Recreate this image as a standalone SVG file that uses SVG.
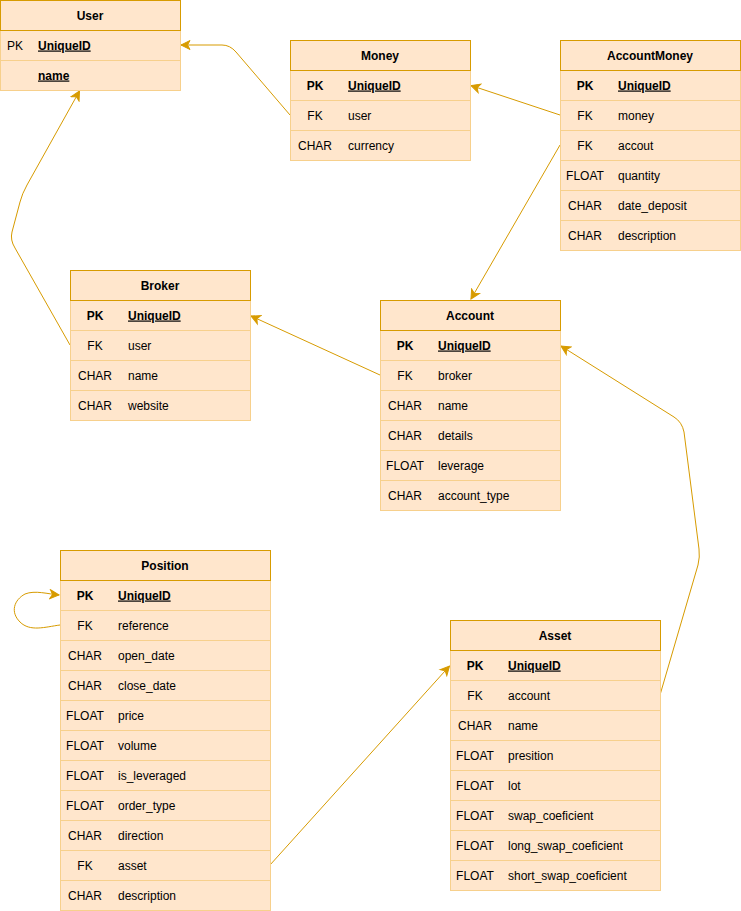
<svg xmlns="http://www.w3.org/2000/svg" width="741" height="911" viewBox="0 0 741 911">
<defs>
<style>
.hd{fill:#ffe6cc;stroke:#d79b00;stroke-width:1}
.bd{fill:#ffe6cc;stroke:#f7d08c;stroke-width:1}
.sep{stroke:#f7d08c;stroke-width:1}
text{font-family:"Liberation Sans",Arial,Helvetica,sans-serif;font-size:12px;fill:#000}
.t{font-weight:bold;text-anchor:middle}
.k{text-anchor:middle}
.kb{text-anchor:middle;font-weight:bold}
.pk{font-weight:bold;text-decoration:underline}
.c{fill:none;stroke:#d79b00;stroke-width:1}
</style>
<marker id="ar" markerUnits="userSpaceOnUse" markerWidth="12" markerHeight="12" viewBox="0 0 12 12" refX="10" refY="6" orient="auto">
<path d="M1,1.5 L10,6 L1,10.5 L3.5,6 Z" fill="#d79b00" stroke="#d79b00" stroke-width="1"/>
</marker>
</defs>
<rect width="741" height="911" fill="#fff"/>

<g id="connectors">
<path class="c" d="M290,115 L236,52 Q230,45 222,45 L181,45" marker-end="url(#ar)"/>
<path class="c" d="M560,115 L471,85.5" marker-end="url(#ar)"/>
<path class="c" d="M560,145 L471,299" marker-end="url(#ar)"/>
<path class="c" d="M70,345 L15,248 Q10,240 12,232 L20,202 Q22,194 27,185 L79.5,91" marker-end="url(#ar)"/>
<path class="c" d="M380,375 L251,316" marker-end="url(#ar)"/>
<path class="c" d="M660,695 L698,565 Q700,557 699,549 L684,432 Q682,422 674,417 L561,346" marker-end="url(#ar)"/>
<path class="c" d="M270,865 L449.5,666" marker-end="url(#ar)"/>
<path class="c" d="M60,625 C45,627 30,632 20,622 C10,612 14,600 25,594 C35,590 48,594 59,595" marker-end="url(#ar)"/>
</g>

<g id="user">
<rect class="bd" x="0.5" y="30.5" width="180" height="60"/>
<rect class="hd" x="0.5" y="0.5" width="180" height="30"/>
<line class="sep" x1="0.5" y1="60.5" x2="180.5" y2="60.5"/>
<text class="t" x="90" y="19.5">User</text>
<text class="k" x="15" y="49.5">PK</text><text class="pk" x="38" y="49.5">UniqueID</text>
<text class="pk" x="38" y="79.5">name</text>
</g>

<g id="money">
<rect class="bd" x="290.5" y="70.5" width="180" height="90"/>
<rect class="hd" x="290.5" y="40.5" width="180" height="30"/>
<line class="sep" x1="290.5" y1="100.5" x2="470.5" y2="100.5"/>
<line class="sep" x1="290.5" y1="130.5" x2="470.5" y2="130.5"/>
<text class="t" x="380" y="59.5">Money</text>
<text class="kb" x="315" y="89.5">PK</text><text class="pk" x="348" y="89.5">UniqueID</text>
<text class="k" x="315" y="119.5">FK</text><text x="348" y="119.5">user</text>
<text class="k" x="315" y="149.5">CHAR</text><text x="348" y="149.5">currency</text>
</g>

<g id="accountmoney">
<rect class="bd" x="560.5" y="70.5" width="180" height="180"/>
<rect class="hd" x="560.5" y="40.5" width="180" height="30"/>
<line class="sep" x1="560.5" y1="100.5" x2="740.5" y2="100.5"/>
<line class="sep" x1="560.5" y1="130.5" x2="740.5" y2="130.5"/>
<line class="sep" x1="560.5" y1="160.5" x2="740.5" y2="160.5"/>
<line class="sep" x1="560.5" y1="190.5" x2="740.5" y2="190.5"/>
<line class="sep" x1="560.5" y1="220.5" x2="740.5" y2="220.5"/>
<text class="t" x="650" y="59.5">AccountMoney</text>
<text class="kb" x="585" y="89.5">PK</text><text class="pk" x="618" y="89.5">UniqueID</text>
<text class="k" x="585" y="119.5">FK</text><text x="618" y="119.5">money</text>
<text class="k" x="585" y="149.5">FK</text><text x="618" y="149.5">accout</text>
<text class="k" x="585" y="179.5">FLOAT</text><text x="618" y="179.5">quantity</text>
<text class="k" x="585" y="209.5">CHAR</text><text x="618" y="209.5">date_deposit</text>
<text class="k" x="585" y="239.5">CHAR</text><text x="618" y="239.5">description</text>
</g>

<g id="broker">
<rect class="bd" x="70.5" y="300.5" width="180" height="120"/>
<rect class="hd" x="70.5" y="270.5" width="180" height="30"/>
<line class="sep" x1="70.5" y1="330.5" x2="250.5" y2="330.5"/>
<line class="sep" x1="70.5" y1="360.5" x2="250.5" y2="360.5"/>
<line class="sep" x1="70.5" y1="390.5" x2="250.5" y2="390.5"/>
<text class="t" x="160" y="289.5">Broker</text>
<text class="kb" x="95" y="319.5">PK</text><text class="pk" x="128" y="319.5">UniqueID</text>
<text class="k" x="95" y="349.5">FK</text><text x="128" y="349.5">user</text>
<text class="k" x="95" y="379.5">CHAR</text><text x="128" y="379.5">name</text>
<text class="k" x="95" y="409.5">CHAR</text><text x="128" y="409.5">website</text>
</g>

<g id="account">
<rect class="bd" x="380.5" y="330.5" width="180" height="180"/>
<rect class="hd" x="380.5" y="300.5" width="180" height="30"/>
<line class="sep" x1="380.5" y1="360.5" x2="560.5" y2="360.5"/>
<line class="sep" x1="380.5" y1="390.5" x2="560.5" y2="390.5"/>
<line class="sep" x1="380.5" y1="420.5" x2="560.5" y2="420.5"/>
<line class="sep" x1="380.5" y1="450.5" x2="560.5" y2="450.5"/>
<line class="sep" x1="380.5" y1="480.5" x2="560.5" y2="480.5"/>
<text class="t" x="470" y="319.5">Account</text>
<text class="kb" x="405" y="349.5">PK</text><text class="pk" x="438" y="349.5">UniqueID</text>
<text class="k" x="405" y="379.5">FK</text><text x="438" y="379.5">broker</text>
<text class="k" x="405" y="409.5">CHAR</text><text x="438" y="409.5">name</text>
<text class="k" x="405" y="439.5">CHAR</text><text x="438" y="439.5">details</text>
<text class="k" x="405" y="469.5">FLOAT</text><text x="438" y="469.5">leverage</text>
<text class="k" x="405" y="499.5">CHAR</text><text x="438" y="499.5">account_type</text>
</g>

<g id="position">
<rect class="bd" x="60.5" y="580.5" width="210" height="330"/>
<rect class="hd" x="60.5" y="550.5" width="210" height="30"/>
<line class="sep" x1="60.5" y1="610.5" x2="270.5" y2="610.5"/>
<line class="sep" x1="60.5" y1="640.5" x2="270.5" y2="640.5"/>
<line class="sep" x1="60.5" y1="670.5" x2="270.5" y2="670.5"/>
<line class="sep" x1="60.5" y1="700.5" x2="270.5" y2="700.5"/>
<line class="sep" x1="60.5" y1="730.5" x2="270.5" y2="730.5"/>
<line class="sep" x1="60.5" y1="760.5" x2="270.5" y2="760.5"/>
<line class="sep" x1="60.5" y1="790.5" x2="270.5" y2="790.5"/>
<line class="sep" x1="60.5" y1="820.5" x2="270.5" y2="820.5"/>
<line class="sep" x1="60.5" y1="850.5" x2="270.5" y2="850.5"/>
<line class="sep" x1="60.5" y1="880.5" x2="270.5" y2="880.5"/>
<text class="t" x="165" y="569.5">Position</text>
<text class="kb" x="85" y="599.5">PK</text><text class="pk" x="118" y="599.5">UniqueID</text>
<text class="k" x="85" y="629.5">FK</text><text x="118" y="629.5">reference</text>
<text class="k" x="85" y="659.5">CHAR</text><text x="118" y="659.5">open_date</text>
<text class="k" x="85" y="689.5">CHAR</text><text x="118" y="689.5">close_date</text>
<text class="k" x="85" y="719.5">FLOAT</text><text x="118" y="719.5">price</text>
<text class="k" x="85" y="749.5">FLOAT</text><text x="118" y="749.5">volume</text>
<text class="k" x="85" y="779.5">FLOAT</text><text x="118" y="779.5">is_leveraged</text>
<text class="k" x="85" y="809.5">FLOAT</text><text x="118" y="809.5">order_type</text>
<text class="k" x="85" y="839.5">CHAR</text><text x="118" y="839.5">direction</text>
<text class="k" x="85" y="869.5">FK</text><text x="118" y="869.5">asset</text>
<text class="k" x="85" y="899.5">CHAR</text><text x="118" y="899.5">description</text>
</g>

<g id="asset">
<rect class="bd" x="450.5" y="650.5" width="210" height="240"/>
<rect class="hd" x="450.5" y="620.5" width="210" height="30"/>
<line class="sep" x1="450.5" y1="680.5" x2="660.5" y2="680.5"/>
<line class="sep" x1="450.5" y1="710.5" x2="660.5" y2="710.5"/>
<line class="sep" x1="450.5" y1="740.5" x2="660.5" y2="740.5"/>
<line class="sep" x1="450.5" y1="770.5" x2="660.5" y2="770.5"/>
<line class="sep" x1="450.5" y1="800.5" x2="660.5" y2="800.5"/>
<line class="sep" x1="450.5" y1="830.5" x2="660.5" y2="830.5"/>
<line class="sep" x1="450.5" y1="860.5" x2="660.5" y2="860.5"/>
<text class="t" x="555" y="639.5">Asset</text>
<text class="kb" x="475" y="669.5">PK</text><text class="pk" x="508" y="669.5">UniqueID</text>
<text class="k" x="475" y="699.5">FK</text><text x="508" y="699.5">account</text>
<text class="k" x="475" y="729.5">CHAR</text><text x="508" y="729.5">name</text>
<text class="k" x="475" y="759.5">FLOAT</text><text x="508" y="759.5">presition</text>
<text class="k" x="475" y="789.5">FLOAT</text><text x="508" y="789.5">lot</text>
<text class="k" x="475" y="819.5">FLOAT</text><text x="508" y="819.5">swap_coeficient</text>
<text class="k" x="475" y="849.5">FLOAT</text><text x="508" y="849.5">long_swap_coeficient</text>
<text class="k" x="475" y="879.5">FLOAT</text><text x="508" y="879.5">short_swap_coeficient</text>
</g>
</svg>
